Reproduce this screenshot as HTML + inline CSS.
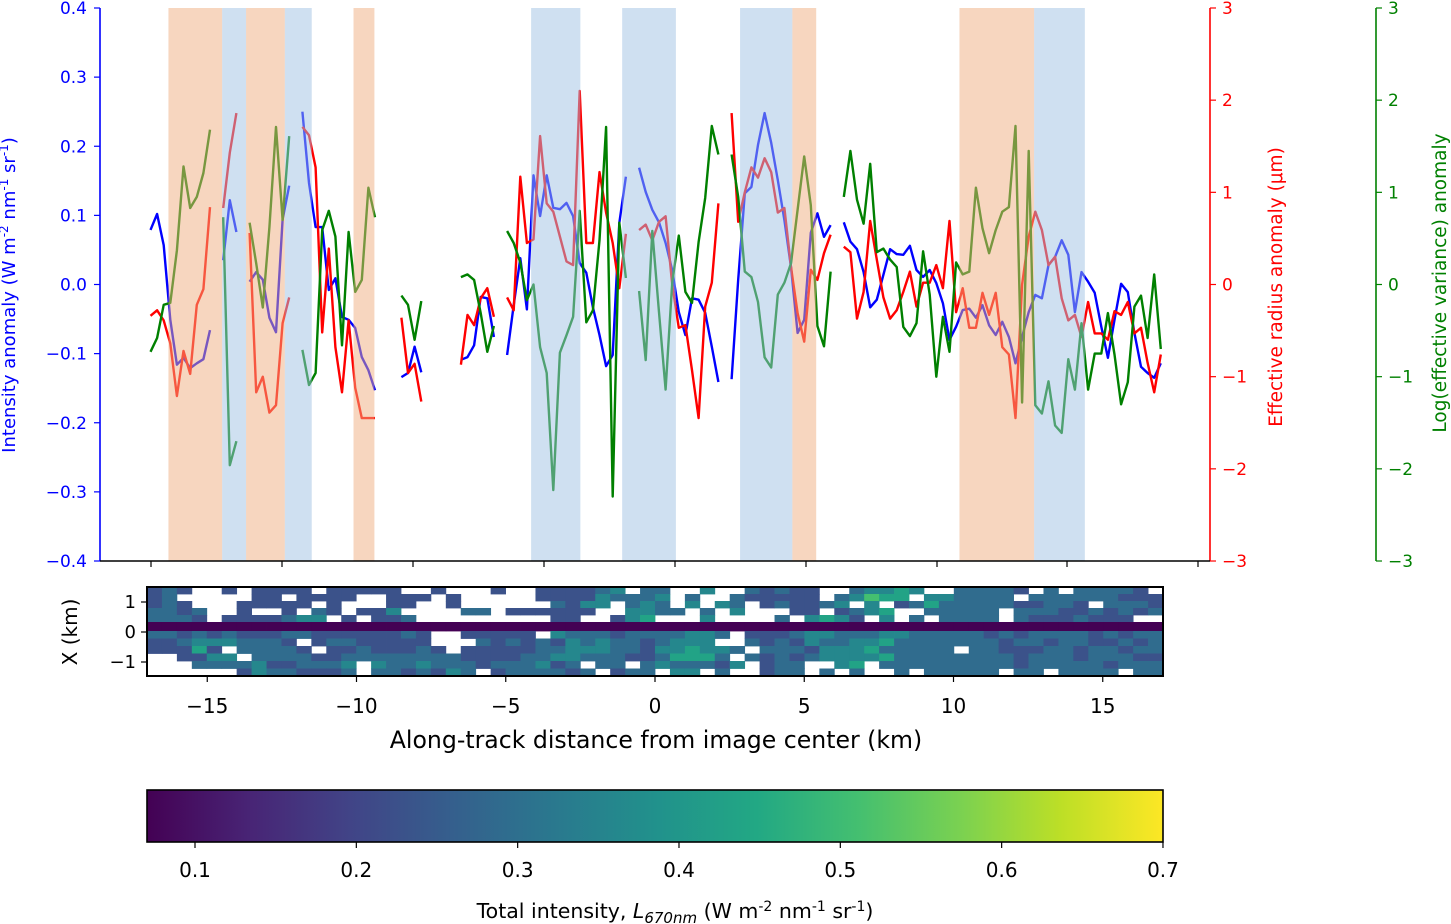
<!DOCTYPE html>
<html><head><meta charset="utf-8"><style>
html,body{margin:0;padding:0;background:#fff;}
svg{display:block;font-family:"DejaVu Sans","Liberation Sans",sans-serif;}
</style></head><body>
<svg id="fig" width="1451" height="924" viewBox="0 0 1451 924" xmlns="http://www.w3.org/2000/svg">
<g id="lines"></g>
<g id="shades"></g>
<g id="axes"></g>
<g id="heat"></g>
<g id="cbar"></g>
</svg>
<script>
const N=null;
const xStartKm=-16.9, xStepKm=0.2212;
const blueVals=[0.079,0.102,0.057,-0.051,-0.116,-0.106,-0.121,-0.114,-0.108,-0.066,N,0.035,0.122,0.076,N,0.004,0.018,0.007,-0.048,-0.069,0.094,0.143,N,0.25,0.147,0.083,0.083,-0.008,0.009,-0.047,-0.051,-0.063,-0.105,-0.124,-0.153,N,N,N,-0.134,-0.128,-0.090,-0.127,N,N,N,N,N,-0.109,-0.105,-0.088,-0.018,-0.020,-0.076,N,-0.102,-0.03,0.038,-0.036,0.158,0.099,0.158,0.111,0.109,0.118,0.099,0.031,0.017,-0.033,-0.073,-0.118,-0.102,0.089,0.156,N,0.169,0.134,0.108,0.090,0.060,0.021,-0.040,-0.073,-0.020,-0.022,-0.041,-0.090,-0.141,N,-0.137,0.007,0.132,0.141,0.202,0.248,0.205,0.151,0.093,0.025,-0.070,-0.051,0.075,0.103,0.069,0.086,N,0.090,0.062,0.051,0.018,-0.033,-0.022,0.014,0.051,0.044,0.043,0.056,0.021,0.011,0.021,0.002,-0.027,-0.080,-0.061,-0.037,-0.035,-0.048,-0.030,-0.059,-0.073,-0.054,-0.076,-0.114,-0.076,-0.040,-0.015,-0.020,0.028,0.040,0.064,0.043,-0.040,0.018,0.004,-0.012,-0.061,-0.106,-0.051,0.001,-0.011,-0.070,-0.119,-0.128,-0.135,-0.114];
const redVals=[-0.34,-0.28,-0.39,-0.64,-1.21,-0.72,-0.97,-0.22,-0.05,0.84,N,0.83,1.43,1.86,N,0.56,-1.17,-1.00,-1.39,-1.31,-0.42,-0.14,N,1.71,1.62,1.27,-0.52,0.39,-0.68,-1.17,-0.39,-1.12,-1.45,-1.45,-1.45,N,N,N,-0.36,-0.96,-0.86,-1.27,N,N,N,N,N,-0.87,-0.33,-0.44,-0.15,-0.04,-0.35,N,-0.14,-0.28,1.17,0.45,0.49,1.61,0.88,0.79,0.52,0.25,0.21,2.10,0.45,0.45,1.22,0.78,0.45,-0.04,0.55,N,0.59,0.65,0.48,0.68,0.74,0,-0.47,-0.44,-0.93,-1.45,-0.24,0.02,0.88,N,1.86,0.68,1.00,1.27,1.16,1.37,1.22,0.78,0.83,0.19,-0.31,-0.62,0.16,0.05,0.34,0.54,N,0.41,0.35,-0.37,-0.08,0.69,0.27,-0.14,-0.37,-0.28,-0.08,0.14,-0.24,0.02,0.02,0.21,-0.04,0.69,-0.30,-0.04,-0.47,-0.47,-0.09,-0.33,-0.09,-0.68,-0.76,-1.45,0,0.52,0.79,0.59,0.21,0.30,-0.15,-0.39,-0.33,-0.57,-0.19,-0.53,-0.53,-0.60,-0.29,-0.33,-0.19,-0.53,-0.47,-0.85,-1.17,-0.76];
const greenVals=[-0.73,-0.58,-0.22,-0.20,0.37,1.28,0.83,0.95,1.21,1.68,N,0.73,-1.96,-1.70,N,0.67,0.23,-0.25,0.62,1.71,0.70,1.61,N,-0.71,-1.09,-0.96,0.59,0.80,0.52,-0.66,0.57,-0.08,0.05,1.05,0.73,N,N,N,-0.12,-0.22,-0.60,-0.18,N,N,N,N,N,0.08,0.11,0.05,-0.31,-0.73,-0.45,N,0.58,0.45,0.24,-0.17,0,-0.68,-0.96,-2.23,-0.74,-0.55,-0.35,0.80,-0.41,-0.28,0.48,1.71,-2.30,0.67,0.07,N,-0.07,-0.82,0.58,-0.30,-1.14,0.02,0.53,-0.08,-0.20,0.46,0.94,1.72,1.41,N,1.41,0.95,0.14,0.08,-0.19,-0.79,-0.90,-0.11,0.02,0.23,0.81,1.39,0.86,-0.45,-0.67,0.14,N,0.95,1.45,0.92,0.66,1.31,0.35,0.39,0.27,0.19,-0.46,-0.56,-0.42,0.36,-0.11,-1.00,-0.35,-0.73,0.24,0.11,0.14,1.05,0.61,0.34,0.59,0.79,0.84,1.72,-1.28,1.45,-1.31,-1.40,-1.05,-1.53,-1.61,-0.81,-1.14,-0.42,-1.14,-0.75,-0.75,-0.31,-0.76,-1.30,-1.06,-0.24,-0.12,-0.58,0.11,-0.70];
const orangeSpans=[[-16.3,-14.5],[-13.7,-12.4],[-10.1,-9.4],[4.6,5.4],[10.2,12.7]];
const blueSpans=[[-14.5,-13.7],[-12.4,-11.5],[-4.15,-2.5],[-1.1,0.7],[2.85,4.6],[12.7,14.4]];
const leftTicks=[-0.4,-0.3,-0.2,-0.1,0.0,0.1,0.2,0.3,0.4];
const rightTicks=[-3,-2,-1,0,1,2,3];
const xTicks=[-15,-10,-5,0,5,10,15];
const cbarTicks=[0.1,0.2,0.3,0.4,0.5,0.6,0.7];
const heatLeft=[
"343..3.3333.33333..3...3..333345.44",
"34.....33.3333..333.3.....33335444",
"343...33333.3...33..3......4355.45",
"4434..3..3.43.335....44.333333..55",
"4443.3333455.3.334.........33..356",
"0000000000000000000000000000000000",
"4434343334433333343..33333.5444344",
"3345554443.34433333...434343545443",
"33363.44443.33433343.3333344555443",
"..3355.44443344444444333344554443",
"...44445334445.54454443444534.44.",
"......35443334.4434354.3444434.344"];
const heatRight=[
"4..5..43433..45565..44443.4.44443.4",
"5.4..433333.45766.554444.444444333",
"4.5.54.343345.5.3464444433443.4443",
"44.4.5...33.3456..44444.44433434344",
"...5....4.5653.5.4.4444.43334333..",
"0000000000000000000000000000000000",
"44554.333455444554444434344443434",
"4555..4343544556444444434434433434",
"556554.4443555644444.443334434434",
"46664.434345555644444444344434443",
"544435.344..56.44444444434444434443",
".55.4..344.4.4..4.44444.44.4444.44"];

const NS="http://www.w3.org/2000/svg";
function el(tag,attrs,parent,text){const e=document.createElementNS(NS,tag);for(const k in attrs)e.setAttribute(k,attrs[k]);if(text!==undefined)e.textContent=text;parent.appendChild(e);return e;}
const xPx=km=>655+km*29.85;
const yBlue=v=>284.5-v*691.25;
const yRight=v=>284.5-v*92.17;
const idxKm=i=>xStartKm+i*xStepKm;

const lines=document.getElementById('lines');
function drawSeries(vals,yf,color,name){
  let d="",pen=false;
  vals.forEach((v,i)=>{if(v===null){pen=false;return;}const x=xPx(idxKm(i)),y=yf(v);d+=(pen?"L":"M")+x.toFixed(1)+" "+y.toFixed(1)+" ";pen=true;});
  const p=el('path',{d:d,fill:'none',stroke:color,'stroke-width':2.4,'stroke-linejoin':'round'},lines);
  
  
}
drawSeries(blueVals,yBlue,'#0000ff','intensity-anomaly-line');
drawSeries(redVals,yRight,'#ff0000','effective-radius-line');
drawSeries(greenVals,yRight,'#008000','log-variance-line');

const shades=document.getElementById('shades');
orangeSpans.forEach(s=>{const r=el('rect',{x:xPx(s[0]),y:8,width:xPx(s[1])-xPx(s[0]),height:553,fill:'#efad7f','fill-opacity':0.5},shades);

});
blueSpans.forEach(s=>{const r=el('rect',{x:xPx(s[0]),y:8,width:xPx(s[1])-xPx(s[0]),height:553,fill:'#9fc1e3','fill-opacity':0.5},shades);

});

const ax=document.getElementById('axes');
el('line',{x1:100,y1:8,x2:100,y2:561,stroke:'#0000ff','stroke-width':1.6},ax);
el('line',{x1:1210,y1:8,x2:1210,y2:561,stroke:'#ff0000','stroke-width':1.6},ax);
el('line',{x1:1376,y1:8,x2:1376,y2:561,stroke:'#008000','stroke-width':1.6},ax);
el('line',{x1:100,y1:561,x2:1210,y2:561,stroke:'#000','stroke-width':1.6},ax);
[151,282,413,544,675,806,937,1067,1198].forEach(x=>el('line',{x1:x,y1:561,x2:x,y2:567,stroke:'#000','stroke-width':1.2},ax));
leftTicks.forEach(v=>{const y=yBlue(v);el('line',{x1:94,y1:y,x2:100,y2:y,stroke:'#0000ff','stroke-width':1.2},ax);
const t=el('text',{x:87,y:y+6,'text-anchor':'end','font-size':17,fill:'#0000ff'},ax,(v<0?'\u2212':'')+Math.abs(v).toFixed(1));

});
rightTicks.forEach(v=>{const y=yRight(v);
el('line',{x1:1210,y1:y,x2:1216,y2:y,stroke:'#ff0000','stroke-width':1.2},ax);
const t=el('text',{x:1222,y:y+6,'font-size':17,fill:'#ff0000'},ax,(v<0?'\u2212':'')+Math.abs(v));


el('line',{x1:1376,y1:y,x2:1382,y2:y,stroke:'#008000','stroke-width':1.2},ax);
const g=el('text',{x:1388,y:y+6,'font-size':17,fill:'#008000'},ax,(v<0?'\u2212':'')+Math.abs(v));

});
let lab=el('text',{x:0,y:0,'font-size':18,fill:'#0000ff','text-anchor':'middle',transform:'translate(15,295) rotate(-90)'},ax);
lab.innerHTML='Intensity anomaly (W m<tspan font-size="12" dy="-7">-2</tspan><tspan dy="7"> nm</tspan><tspan font-size="12" dy="-7">-1</tspan><tspan dy="7"> sr</tspan><tspan font-size="12" dy="-7">-1</tspan><tspan dy="7">)</tspan>';


lab=el('text',{x:0,y:0,'font-size':18.5,fill:'#ff0000','text-anchor':'middle',transform:'translate(1282,287) rotate(-90)'},ax,'Effective radius anomaly (\u03bcm)');


lab=el('text',{x:0,y:0,'font-size':18.5,fill:'#008000','text-anchor':'middle',transform:'translate(1446,283) rotate(-90)'},ax,'Log(effective variance) anomaly');



const vir=['#440154','#482475','#414487','#355f8d','#2a788e','#21918c','#22a884','#44bf70','#7ad151','#bddf26','#fde725'];
function hex(h){return [1,3,5].map(i=>parseInt(h.substr(i,2),16));}
function viridis(f){f=Math.max(0,Math.min(1,f));const p=f*10,i=Math.min(9,Math.floor(p)),t=p-i;const a=hex(vir[i]),b=hex(vir[i+1]);return 'rgb('+a.map((c,k)=>Math.round(c+(b[k]-c)*t)).join(',')+')';}
const levelFrac=[0,0.1,0.18,0.25,0.35,0.46,0.58,0.7,0.82,0.92];

const heat=document.getElementById('heat');
const hx0=147,hx1=1163,halfCols=34,cw=(hx1-hx0)/(2*halfCols);
const rowY=[587,594,601,608,615,622,631,638.5,646,653.5,661,668.5,676];
function fit(s){s=s.slice(0,halfCols);while(s.length<halfCols)s+=s[s.length-1]==='.'?'4':s[s.length-1];return s;}
for(let r=0;r<heatLeft.length;r++){
  const row=fit(heatLeft[r])+fit(heatRight[r]);
  for(let c=0;c<row.length;c++){const ch=row[c];if(ch==='.')continue;
    const cell=el('rect',{x:(hx0+c*cw).toFixed(2),y:rowY[r],width:(cw+0.4).toFixed(2),height:rowY[r+1]-rowY[r]+0.4,fill:viridis(levelFrac[+ch])},heat);
    
    }
}
el('rect',{x:hx0,y:587,width:hx1-hx0,height:89,fill:'none',stroke:'#000','stroke-width':2},heat);
[[1,602],[0,632],[-1,662]].forEach(a=>{el('line',{x1:141,y1:a[1],x2:147,y2:a[1],stroke:'#000','stroke-width':1.2},heat);
const t=el('text',{x:136,y:a[1]+6,'text-anchor':'end','font-size':18},heat,(a[0]<0?'\u2212':'')+Math.abs(a[0]));

});
xTicks.forEach(v=>{const x=xPx(v);el('line',{x1:x,y1:676,x2:x,y2:682,stroke:'#000','stroke-width':1.2},heat);
const t=el('text',{x:x,y:713,'text-anchor':'middle','font-size':20},heat,(v<0?'\u2212':'')+Math.abs(v));

});
lab=el('text',{x:0,y:0,'font-size':20,'text-anchor':'middle',transform:'translate(77,632) rotate(-90)'},heat,'X (km)');


lab=el('text',{x:656,y:748,'font-size':23.6,'text-anchor':'middle'},heat,'Along-track distance from image center (km)');



const cb=document.getElementById('cbar');
const defs=el('defs',{},cb);
const lg=el('linearGradient',{id:'vg',x1:0,y1:0,x2:1,y2:0},defs);
vir.forEach((c,i)=>el('stop',{offset:i/10,'stop-color':c},lg));
el('rect',{x:147,y:790,width:1016,height:52,fill:'url(#vg)',stroke:'#000','stroke-width':1.6},cb);
const cbX=v=>195+(v-0.1)*1613.3;
cbarTicks.forEach(v=>{const x=cbX(v);el('line',{x1:x,y1:842,x2:x,y2:848,stroke:'#000','stroke-width':1.2},cb);
const t=el('text',{x:x,y:877,'text-anchor':'middle','font-size':20},cb,v.toFixed(1));

});
lab=el('text',{x:675,y:918,'font-size':20.5,'text-anchor':'middle'},cb);
lab.innerHTML='Total intensity, <tspan font-style="italic">L</tspan><tspan font-style="italic" font-size="15" dy="5">670nm</tspan><tspan dy="-5"> (W m</tspan><tspan font-size="14" dy="-7">-2</tspan><tspan dy="7"> nm</tspan><tspan font-size="14" dy="-7">-1</tspan><tspan dy="7"> sr</tspan><tspan font-size="14" dy="-7">-1</tspan><tspan dy="7">)</tspan>';


</script>
</body></html>
